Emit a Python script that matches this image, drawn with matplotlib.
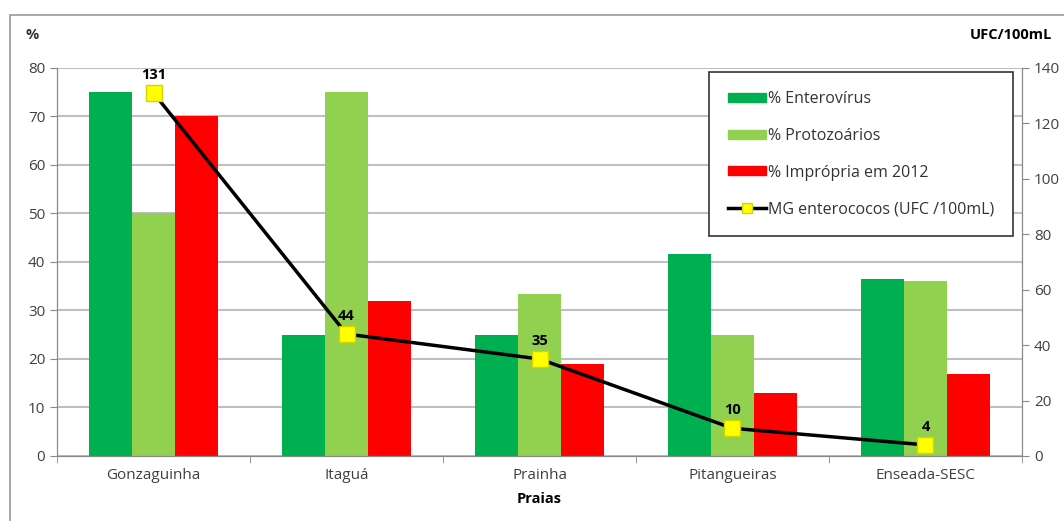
import numpy as np
import matplotlib.pyplot as plt
from matplotlib.lines import Line2D
from matplotlib.patches import Patch, Rectangle

plt.rcParams['font.family'] = ['Open Sans', 'DejaVu Sans']

praias = ['Gonzaguinha', 'Itaguá', 'Prainha', 'Pitangueiras', 'Enseada-SESC']
enterovirus = [75, 25, 25, 41.7, 36.4]
protozoarios = [50, 75, 33.3, 25, 36]
impropria = [70, 32, 19, 13, 17]
mg_enterococos = [131, 44, 35, 10, 4]

fig = plt.figure(figsize=(10.64, 5.21), dpi=100)
ax = fig.add_axes([0.0536, 0.1248, 0.9069, 0.7447])
ax2 = ax.twinx()

x = np.arange(len(praias))
w = 0.223
ax.bar(x - w, enterovirus, w, color='#00b050', zorder=2)
ax.bar(x, protozoarios, w, color='#92d050', zorder=2)
ax.bar(x + w, impropria, w, color='#ff0000', zorder=2)

ax2.plot(x, mg_enterococos, color='black', lw=2.5, marker='s', ms=11,
         mfc='#ffff00', mec='#d4d400', zorder=5)
for xi, v in zip(x, mg_enterococos):
    ax2.annotate(str(v), (xi, v), xytext=(0, 8), textcoords='offset points',
                 ha='center', va='bottom', fontsize=10.5, fontweight='bold')

ax.set_xlim(-0.5, len(praias) - 0.5)
ax.set_ylim(0, 80)
ax2.set_ylim(0, 140)
ax.set_yticks(range(0, 81, 10))
ax2.set_yticks(range(0, 141, 20))
ax.set_xticks(x)
ax.set_xticklabels(praias, fontsize=11, color='#404040')
ax.set_xticks(np.arange(-0.5, len(praias), 1), minor=True)
ax.tick_params(axis='x', which='major', length=0, pad=9)
ax.tick_params(axis='x', which='minor', length=5, color='#888888')
ax.tick_params(axis='y', length=5, color='#888888', labelsize=11, labelcolor='#404040')
ax2.tick_params(axis='y', length=5, color='#888888', labelsize=11, labelcolor='#404040')
ax.grid(axis='y', color='#bfbfbf', lw=1.5, zorder=0)
ax.set_axisbelow(True)

for a in (ax, ax2):
    a.spines['top'].set_visible(False)
    for s in ('left', 'right', 'bottom'):
        a.spines[s].set_color('#888888')

ax.set_xlabel('Praias', fontsize=10.5, fontweight='bold', labelpad=6)
fig.text(0.024, 0.925, '%', fontsize=10.5, fontweight='bold', color='#333333')
fig.text(0.989, 0.925, 'UFC/100mL', fontsize=10.5, fontweight='bold', ha='right')

handles = [Patch(color='#00b050'), Patch(color='#92d050'), Patch(color='#ff0000'),
           Line2D([], [], color='black', lw=2.5, marker='s', ms=7,
                  mfc='#ffff00', mec='#d4d400')]
labels = ['% Enterovírus', '% Protozoários', '% Imprópria em 2012',
          'MG enterococos (UFC /100mL)']
leg = ax2.legend(handles, labels, loc='upper right', bbox_to_anchor=(0.991, 0.99),
                 fontsize=11.5, labelspacing=1.3, handlelength=2.4, handleheight=0.5,
                 handletextpad=0.1, borderpad=1.2, borderaxespad=0, fancybox=False,
                 edgecolor='#333333', framealpha=1)
leg.get_frame().set_linewidth(1.2)
for t in leg.get_texts():
    t.set_color('#333333')

fig.patches.append(Rectangle((0.009, -0.1), 1.2, 1.071, transform=fig.transFigure,
                             fill=False, edgecolor='#999999', lw=1.2))

fig.savefig('out.png', dpi=100)
